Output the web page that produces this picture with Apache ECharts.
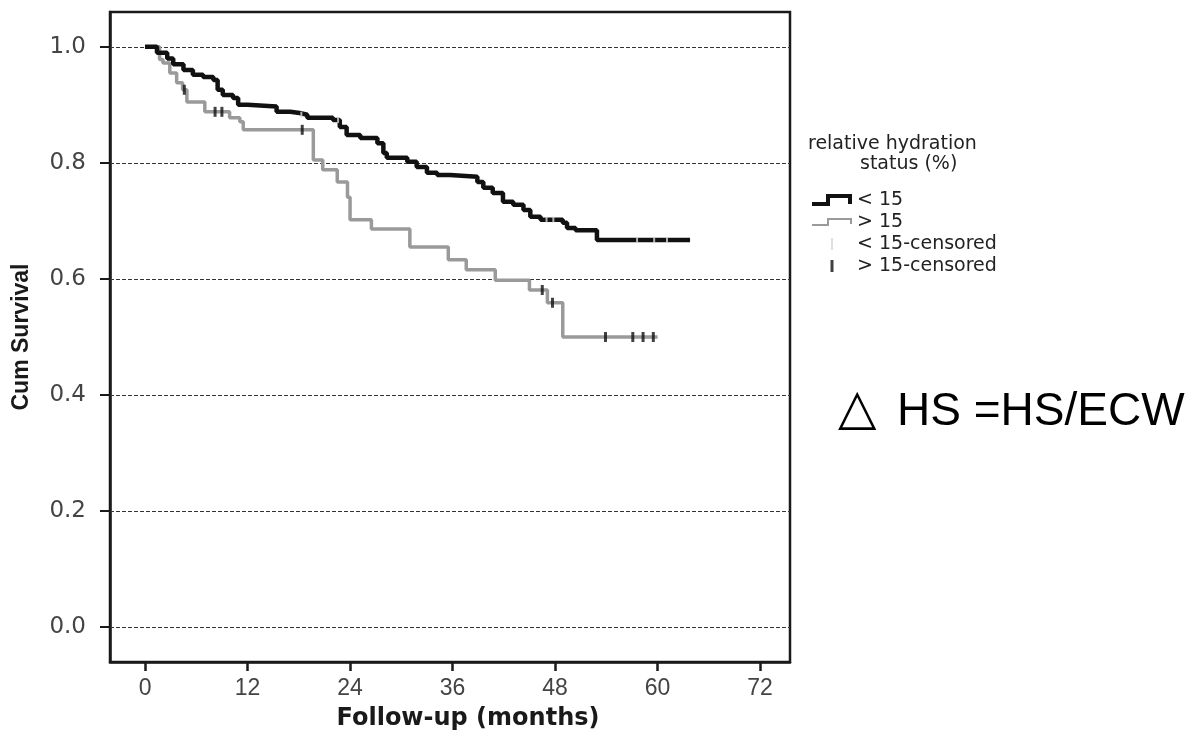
<!DOCTYPE html>
<html>
<head>
<meta charset="utf-8">
<script src="https://cdn.jsdelivr.net/npm/echarts@6/dist/echarts.min.js"></script>
<style>
  html, body { margin: 0; padding: 0; background: #fff; }
  #chart { width: 1198px; height: 731px; }
</style>
</head>
<body>
<div id="chart"></div>
<script>
// tick labels
var xTicks = [0, 12, 24, 36, 48, 60, 72];
var yTicks = [0, 0.2, 0.4, 0.6, 0.8, 1.0];

// < 15 group (black step curve)
var lowTimes = [0, 1.4, 2.6, 3.3, 4.5, 5.6, 6.8, 8.0, 8.5, 9.1, 10.3, 10.9, 12.0, 15.4, 17.0, 18.1, 19.0, 22.0, 22.8, 23.6, 25.2, 27.2, 27.9, 28.3, 30.7, 31.8, 33.0, 34.2, 35.7, 38.9, 39.6, 40.7, 41.9, 43.1, 44.3, 45.1, 46.3, 48.9, 49.4, 50.4, 52.9, 63.8];
var lowSurv = [1.0, 0.99, 0.98, 0.97, 0.96, 0.952, 0.948, 0.943, 0.926, 0.917, 0.912, 0.90, 0.897, 0.888, 0.886, 0.883, 0.878, 0.874, 0.862, 0.848, 0.843, 0.834, 0.817, 0.809, 0.802, 0.793, 0.783, 0.779, 0.776, 0.767, 0.757, 0.748, 0.733, 0.728, 0.719, 0.707, 0.702, 0.697, 0.688, 0.684, 0.667, 0.667];

// > 15 group (gray step curve)
var highTimes = [0, 1.7, 2.1, 2.9, 3.7, 4.4, 4.9, 7.0, 9.9, 11.1, 11.5, 19.7, 20.8, 22.5, 23.7, 24.0, 26.5, 31.0, 35.5, 37.6, 41.0, 45.0, 47.1, 48.9, 60.0];
var highSurv = [1.0, 0.978, 0.972, 0.955, 0.938, 0.926, 0.905, 0.888, 0.878, 0.871, 0.857, 0.805, 0.788, 0.767, 0.741, 0.702, 0.686, 0.655, 0.633, 0.616, 0.598, 0.581, 0.559, 0.50, 0.50];

// censored cases
var lowCensTimes = [18.3, 22.6, 47.0, 47.8, 57.6, 59.6, 61.1];
var lowCensSurv = [0.883, 0.874, 0.702, 0.702, 0.667, 0.667, 0.667];
var highCensTimes = [4.6, 8.2, 9.0, 18.4, 46.5, 47.7, 53.9, 57.1, 58.3, 59.5];
var highCensSurv = [0.926, 0.888, 0.888, 0.857, 0.581, 0.559, 0.50, 0.50, 0.50, 0.50];

function pairs(xs, ys) {
  return xs.map(function (x, i) { return [x, ys[i]]; });
}

var chart = echarts.init(document.getElementById('chart'));

var option = {
  animation: false,
  backgroundColor: '#fff',
  grid: {
    left: 110, top: 12, right: 408, bottom: 69,
    containLabel: false,
    outerBoundsMode: 'none',
    show: true, borderColor: '#1a1a1a', borderWidth: 2.5, backgroundColor: 'transparent'
  },
  xAxis: {
    type: 'value',
    min: -4.1, max: 75.5,
    name: 'Follow-up (months)',
    nameLocation: 'middle',
    nameGap: 45,
    nameTextStyle: { fontSize: 24, fontWeight: 'bold', color: '#1a1a1a', fontFamily: 'DejaVu Sans, sans-serif', padding: [0, 0, 0, 36] },
    axisLine: { show: true, onZero: false, lineStyle: { color: '#1a1a1a', width: 2.5 } },
    axisTick: { show: true, customValues: xTicks, length: 9, lineStyle: { color: '#1a1a1a', width: 2.5 } },
    axisLabel: { customValues: xTicks, fontSize: 23, color: '#444', margin: 15, fontFamily: 'Liberation Sans, Arial, sans-serif' },
    splitLine: { show: false }
  },
  yAxis: {
    type: 'value',
    min: -0.06, max: 1.06,
    name: 'Cum Survival',
    nameLocation: 'middle',
    nameGap: 77,
    nameTextStyle: { fontSize: 23, fontWeight: 'bold', color: '#1a1a1a', fontFamily: 'Liberation Sans, Arial, sans-serif' },
    axisLine: { show: true, onZero: false, lineStyle: { color: '#1a1a1a', width: 2.5 } },
    axisTick: { show: true, customValues: yTicks, length: 10, lineStyle: { color: '#1a1a1a', width: 2 } },
    axisLabel: {
      customValues: yTicks, fontSize: 23, color: '#444', margin: 24,
      fontFamily: 'DejaVu Sans, sans-serif',
      formatter: function (v) { return v.toFixed(1); }
    },
    splitLine: { show: false }
  },
  legend: {
    orient: 'vertical',
    left: 812, top: 190,
    padding: 0,
    itemWidth: 40, itemHeight: 12, itemGap: 2,
    selectedMode: false,
    textStyle: { fontSize: 19, lineHeight: 20, color: '#222', fontFamily: 'DejaVu Sans, sans-serif' },
    itemStyle: { borderWidth: 0 },
    data: [
      { name: '< 15', icon: 'path://M0,8 L14,8 L14,0 L40,0 L40,10 L36,10 L36,4 L18,4 L18,12 L0,12 Z' },
      { name: '> 15', icon: 'path://M0,8 L15,8 L15,2 L40,2 L40,8 L38,8 L38,4 L17,4 L17,10 L0,10 Z' },
      { name: '< 15-censored', icon: 'path://M0,0 L2,0 L2,12 L0,12 Z' },
      { name: '> 15-censored', icon: 'path://M0,0 L3,0 L3,12 L0,12 Z' }
    ]
  },
  graphic: [
    { type: 'text', left: 808, top: 135, style: { text: 'relative hydration', fontSize: 19, fill: '#222', fontFamily: 'DejaVu Sans, sans-serif' } },
    { type: 'text', left: 860, top: 155, style: { text: 'status (%)', fontSize: 19, fill: '#222', fontFamily: 'DejaVu Sans, sans-serif' } },
    { type: 'text', left: 838, top: 386, style: { text: '\u25B3', fontSize: 50, fill: '#000', fontFamily: 'DejaVu Sans, sans-serif' } },
    { type: 'text', left: 897, top: 389, style: { text: 'HS =HS/ECW', fontSize: 46, fill: '#000', fontFamily: 'Liberation Sans, Arial, sans-serif' } }
  ],
  series: [
    {
      name: '> 15',
      type: 'line',
      step: 'end',
      color: '#9a9a9a',
      showSymbol: false,
      lineStyle: { color: '#9a9a9a', width: 3.5 },
      data: pairs(highTimes, highSurv),
      z: 3,
      markLine: {
        silent: true,
        symbol: ['none', 'none'],
        label: { show: false },
        lineStyle: { color: '#333', width: 1, type: [4, 2] },
        data: yTicks.map(function (v) { return { yAxis: v }; }),
        z: 1
      }
    },
    {
      name: '< 15',
      type: 'line',
      step: 'end',
      color: '#111',
      showSymbol: false,
      lineStyle: { color: '#111', width: 4.5 },
      data: pairs(lowTimes, lowSurv),
      z: 4
    },
    {
      name: '< 15-censored',
      type: 'scatter',
      color: '#d8d8d8',
      symbol: 'rect',
      symbolSize: [2, 6],
      data: pairs(lowCensTimes, lowCensSurv),
      z: 5
    },
    {
      name: '> 15-censored',
      type: 'scatter',
      color: '#111',
      symbol: 'rect',
      symbolSize: [3, 10],
      data: pairs(highCensTimes, highCensSurv),
      z: 5
    }
  ]
};

chart.setOption(option);
</script>
</body>
</html>
